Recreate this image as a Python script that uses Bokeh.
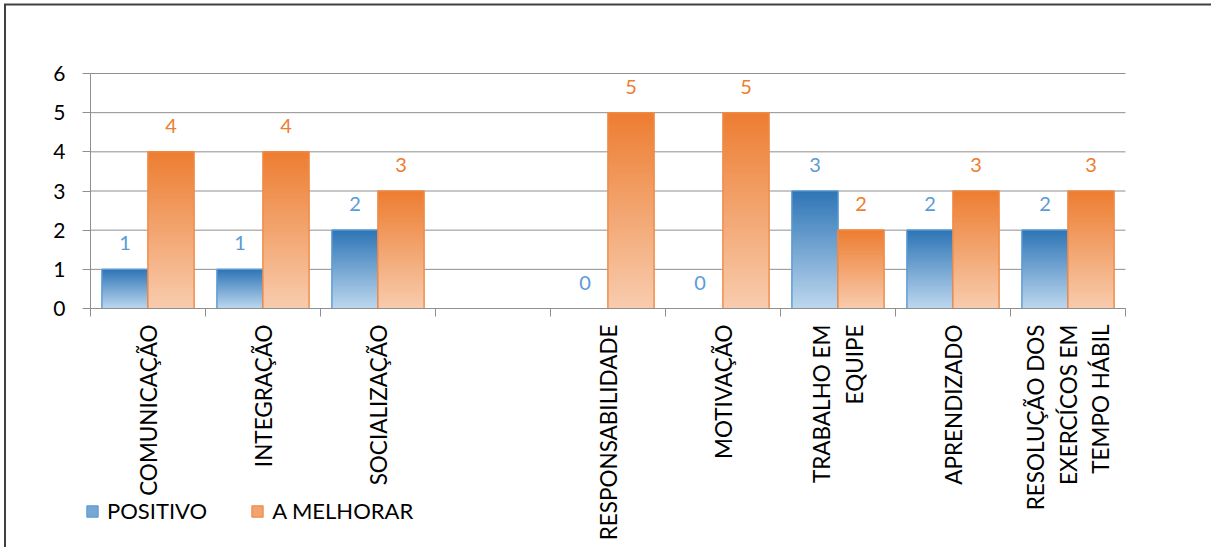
import math

from bokeh.plotting import figure
from bokeh.models import (Range1d, FixedTicker, LinearAxis, PolyAnnotation,
                          Legend, LegendItem)
from bokeh.core.properties import value
from bokeh.embed import file_html
from bokeh.resources import INLINE

# ---- data -----------------------------------------------------------------
categories = [
    "COMUNICAÇÃO",
    "INTEGRAÇÃO",
    "SOCIALIZAÇÃO",
    "",
    "RESPONSABILIDADE",
    "MOTIVAÇÃO",
    "TRABALHO EM\nEQUIPE",
    "APRENDIZADO",
    "RESOLUÇÃO DOS\nEXERCÍCOS EM\nTEMPO HÁBIL",
]
positivo = [1, 1, 2, None, 0, 0, 3, 2, 2]
a_melhorar = [4, 4, 3, None, 5, 5, 2, 3, 3]
series_names = ["POSITIVO", "A MELHORAR"]
y_ticks = [0, 1, 2, 3, 4, 5, 6]

# ---- layout (pixels) ----------------------------------------------------------
W, H = 1211, 547
ORIGIN_X, ORIGIN_Y = 90, 308          # canvas position of (0, 0)
PX_PER_CAT = 115
PX_PER_UNIT = 235 / 6

# ---- style ----------------------------------------------------------------
FONT = "Lato"
GRID = "#8f8f8f"
BLUE_TOP, BLUE_BOTTOM, BLUE_LINE, BLUE_TEXT = (46, 117, 182), (189, 215, 238), "#5B9BD5", "#5B9BD5"
ORANGE_TOP, ORANGE_BOTTOM, ORANGE_LINE, ORANGE_TEXT = (237, 125, 49), (248, 204, 174), "#F08A46", "#ED7D31"
BAR_W = 0.4
STEPS = 60


def mix(c_top, c_bottom, t):
    """t = 0 at the bottom of a bar, 1 at its top."""
    r, g, b = (round(lo + (hi - lo) * t) for hi, lo in zip(c_top, c_bottom))
    return f"#{r:02x}{g:02x}{b:02x}"


x_range = Range1d(-ORIGIN_X / PX_PER_CAT, (W - ORIGIN_X) / PX_PER_CAT)
y_range = Range1d(-(H - ORIGIN_Y) / PX_PER_UNIT, ORIGIN_Y / PX_PER_UNIT)

p = figure(width=W, height=H, output_backend="svg", toolbar_location=None,
           x_range=x_range, y_range=y_range,
           x_axis_type=None, y_axis_type=None,
           min_border=0)
p.outline_line_color = None
p.background_fill_color = "white"
p.border_fill_color = "white"

# ---- grid lines -------------------------------------------------------------
n = len(categories)
p.segment(x0=[0] * len(y_ticks), x1=[n] * len(y_ticks), y0=y_ticks, y1=y_ticks,
          line_color=GRID, line_width=1, level="underlay")

# ---- axes -------------------------------------------------------------------
yaxis = LinearAxis(ticker=FixedTicker(ticks=y_ticks, minor_ticks=[]),
                   fixed_location=0, bounds=(0, max(y_ticks)),
                   major_tick_out=8, major_tick_in=0,
                   major_tick_line_color=GRID, axis_line_color=GRID,
                   minor_tick_line_color=None,
                   major_label_standoff=17,
                   major_label_text_font=FONT,
                   major_label_text_font_size="21px",
                   major_label_text_color="#000000")
p.add_layout(yaxis, "left")

centers = [i + 0.5 for i in range(n)]
bounds = list(range(n + 1))
xaxis = LinearAxis(ticker=FixedTicker(ticks=centers, minor_ticks=bounds),
                   fixed_location=0, bounds=(0, n),
                   major_tick_out=0, major_tick_in=0,
                   minor_tick_out=8, minor_tick_in=0,
                   minor_tick_line_color=GRID, axis_line_color=GRID,
                   major_label_overrides={c: lab for c, lab in zip(centers, categories)},
                   major_label_orientation=math.pi / 2,
                   major_label_standoff=8,
                   major_label_text_font=FONT,
                   major_label_text_font_size="22.5px",
                   major_label_text_line_height=1.2,
                   major_label_text_align="center",
                   major_label_text_color="#000000")
p.add_layout(xaxis, "below")


# ---- gradient bars ----------------------------------------------------------
def bar_series(vals, offset, c_top, c_bottom, line_color, text_color):
    sx, sb, st, sc = [], [], [], []
    ox, ot, lx, ly, lt = [], [], [], [], []
    for i, v in enumerate(vals):
        if v is None:
            continue
        x = i + offset
        lx.append(x); ly.append(v); lt.append(str(v))
        if v == 0:
            continue
        ox.append(x); ot.append(v)
        # each band runs from its own bottom up to the bar top; bands drawn
        # later cover the upper part, leaving a seamless vertical gradient
        for k in range(STEPS):
            sx.append(x)
            sb.append(v * k / STEPS)
            st.append(v)
            sc.append(mix(c_top, c_bottom, (k + 0.5) / STEPS))
    base = p.vbar(x=ox, top=ot, bottom=0, width=BAR_W,
                  fill_color=mix(c_top, c_bottom, 0.5), line_color=line_color,
                  line_width=1.2)
    p.vbar(x=sx, bottom=sb, top=st, width=BAR_W, fill_color=sc, line_color=None)
    p.vbar(x=ox, top=ot, bottom=0, width=BAR_W, fill_color=None,
           line_color=line_color, line_width=1.2)
    p.text(x=lx, y=ly, text=lt, y_offset=-26, text_align="center",
           text_baseline="middle", text_color=text_color,
           text_font=value(FONT), text_font_size="20px")
    return base


r_pos = bar_series(positivo, 0.3, BLUE_TOP, BLUE_BOTTOM, BLUE_LINE, BLUE_TEXT)
r_mel = bar_series(a_melhorar, 0.7, ORANGE_TOP, ORANGE_BOTTOM, ORANGE_LINE, ORANGE_TEXT)

legend = Legend(items=[LegendItem(label=series_names[0], renderers=[r_pos]),
                       LegendItem(label=series_names[1], renderers=[r_mel])],
                location=(85, 23), orientation="horizontal",
                padding=0, margin=0, spacing=43, label_standoff=8,
                glyph_width=14, glyph_height=14,
                border_line_color=None, background_fill_alpha=0,
                label_text_font=FONT, label_text_font_size="22px",
                label_text_color="#000000")
p.add_layout(legend)

# ---- outer chart border: an L-shaped band along the top and left edges -------
p.add_layout(PolyAnnotation(
    xs=[3.5, W + 20, W + 20, 5.5, 5.5, 3.5],
    ys=[H - 3, H - 3, H - 5, H - 5, -20, -20],
    xs_units="screen", ys_units="screen",
    fill_color="#404040", fill_alpha=1, line_color=None, level="overlay"))

open("out.html", "w").write(file_html(p, INLINE))
